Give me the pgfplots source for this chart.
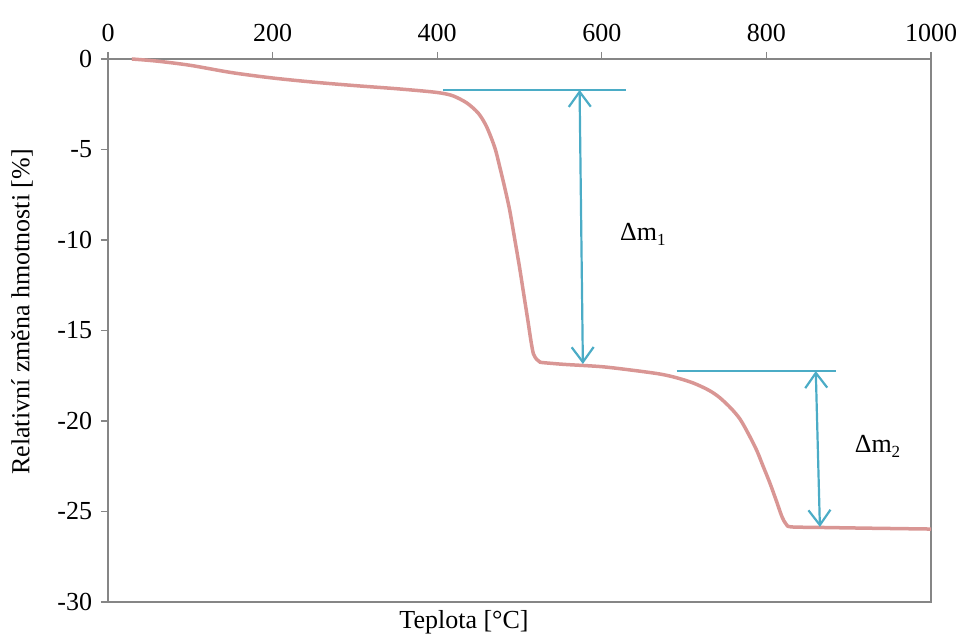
\documentclass[border=0pt]{standalone}
\usepackage{fontspec}
\setmainfont{Liberation Serif}
\usepackage{pgfplots}
\pgfplotsset{compat=1.18}
\usetikzlibrary{arrows.meta}
\definecolor{curve}{HTML}{D99694}
\definecolor{arr}{HTML}{4BACC6}
\definecolor{axgray}{HTML}{868686}
\newcommand{\sub}[1]{\raisebox{-0.4ex}{\fontsize{17}{17}\selectfont #1}}
\begin{document}
\fontsize{26}{31}\selectfont
\begin{tikzpicture}[x=1pt,y=1pt]
\path[use as bounding box] (0,0) rectangle (960,636);
\begin{axis}[
  at={(108pt,34pt)}, anchor=south west,
  scale only axis, width=823pt, height=543pt,
  xmin=0, xmax=1000, ymin=-30, ymax=0,
  xtick={0,200,...,1000}, ytick={0,-5,...,-30},
  xticklabel pos=top,
  tick align=outside, tick pos=left,
  xtick pos=top,
  major tick length=7pt,
  every tick/.style={axgray, line width=1.2pt},
  axis line style={axgray, line width=1.2pt},
  /pgf/number format/assume math mode=true,
  /pgf/number format/1000 sep={},
  ticklabel style={font=\fontsize{26}{31}\selectfont},
  xticklabel style={yshift=1pt},
  clip=false,
]
\addplot[curve, line width=3.5pt, smooth, tension=0.5] coordinates {
(29,0) (60,-0.12) (100,-0.35) (150,-0.75) (200,-1.05)
(250,-1.28) (300,-1.47) (350,-1.64) (390,-1.8) (407,-1.9) (420,-2.05) (436,-2.43)
(450,-3.0) (460,-3.74) (470,-4.9) (476,-5.96) (482,-7.1) (488,-8.34) (494,-9.9)
(500,-11.5) (505,-12.95) (510,-14.4) (514,-15.6) (517,-16.3) (521,-16.6)
(525,-16.75) (540,-16.82) (557,-16.88) (600,-17.0) (638,-17.2) (670,-17.4)
(690,-17.6) (711,-17.9) (730,-18.3) (743,-18.7) (757,-19.3) (768,-19.9)
(778,-20.7) (788,-21.6) (796,-22.5) (804,-23.4) (812,-24.4) (819,-25.3)
(824,-25.7) (830,-25.85) (865,-25.88) (920,-25.92) (1000,-25.97)
};
\draw[arr, line width=2pt] (axis cs:407,-1.71) -- (axis cs:630,-1.71);
\draw[arr, line width=2.2pt, {Straight Barb[length=15pt,width=22pt]}-{Straight Barb[length=15pt,width=22pt]}] (axis cs:573,-1.71) -- (axis cs:577,-16.85);
\draw[arr, line width=2pt] (axis cs:691,-17.24) -- (axis cs:885,-17.24);
\draw[arr, line width=2.2pt, {Straight Barb[length=15pt,width=22pt]}-{Straight Barb[length=15pt,width=22pt]}] (axis cs:860,-17.24) -- (axis cs:865,-25.85);
\node at (axis cs:650,-9.7) {Δm\sub{1}};
\node at (axis cs:935,-21.4) {Δm\sub{2}};
\end{axis}
\node[rotate=90] at (22,324) {Relativní změna hmotnosti [\%]};
\node at (464,14) {Teplota [°C]};
\end{tikzpicture}
\end{document}
